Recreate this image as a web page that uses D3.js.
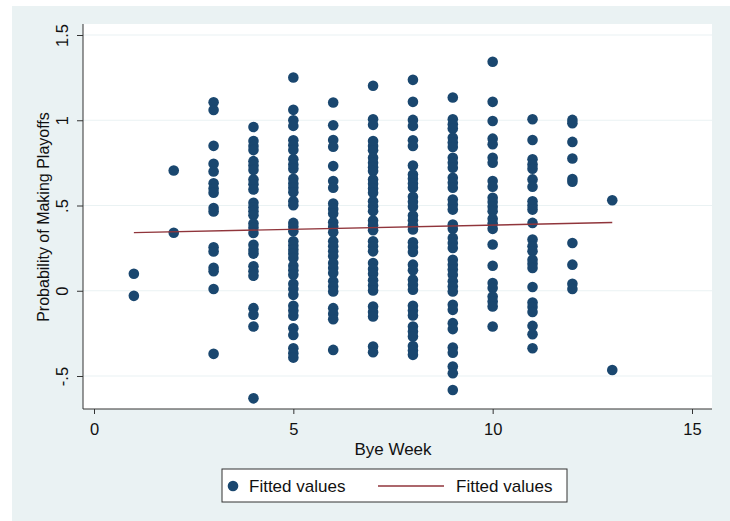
<!DOCTYPE html>
<html>
<head>
<meta charset="utf-8">
<script src="https://cdn.jsdelivr.net/npm/d3@7"></script>
<style>
  body { margin: 0; background: #fff; }
  svg { display: block; font-family: "Liberation Sans", Arial, sans-serif; }
</style>
</head>
<body>
<div id="chart"></div>
<script>
// bye week values and the fitted values for each team-season, read per column
var byeWeeks = [1, 2, 3, 4, 5, 6, 7, 8, 9, 10, 11, 12, 13];
var fittedByWeek = [
  [0.10, -0.03],
  [0.705, 0.34],
  [1.105, 1.06, 0.85, 0.745, 0.70, 0.63, 0.60, 0.575, 0.485, 0.465, 0.255, 0.23, 0.135, 0.115, 0.01, -0.37],
  [0.96, 0.878, 0.849, 0.825, 0.76, 0.735, 0.708, 0.653, 0.624, 0.594, 0.516, 0.49, 0.467, 0.443,
   0.394, 0.369, 0.339, 0.27, 0.241, 0.218, 0.143, 0.114, 0.088, -0.102, -0.141, -0.21, -0.631],
  [1.251, 1.061, 1.0, 0.967, 0.882, 0.853, 0.825, 0.771, 0.741, 0.716, 0.657, 0.629, 0.604, 0.578,
   0.525, 0.502, 0.398, 0.375, 0.349, 0.29, 0.265, 0.241, 0.218, 0.192, 0.147, 0.12, 0.094,
   0.041, 0.01, -0.024, -0.088, -0.116, -0.147, -0.22, -0.259, -0.337, -0.367, -0.392],
  [1.104, 0.971, 0.884, 0.845, 0.731, 0.643, 0.604, 0.512, 0.48, 0.453, 0.402, 0.375, 0.343,
   0.29, 0.261, 0.231, 0.202, 0.163, 0.133, 0.104, 0.055, 0.025, -0.004, -0.102, -0.135, -0.167, -0.347],
  [1.202, 1.006, 0.973, 0.878, 0.849, 0.824, 0.78, 0.751, 0.725, 0.702, 0.653, 0.627, 0.6, 0.575,
   0.525, 0.496, 0.467, 0.412, 0.384, 0.355, 0.29, 0.261, 0.231, 0.163, 0.128, 0.1, 0.061, 0.031,
   0.002, -0.092, -0.125, -0.151, -0.327, -0.361],
  [1.237, 1.108, 1.002, 0.967, 0.882, 0.849, 0.735, 0.682, 0.657, 0.629, 0.604, 0.551, 0.522,
   0.492, 0.441, 0.414, 0.384, 0.359, 0.284, 0.257, 0.227, 0.153, 0.12, 0.065, 0.035, 0.006,
   -0.088, -0.116, -0.145, -0.21, -0.239, -0.269, -0.324, -0.351, -0.376],
  [1.133, 1.006, 0.976, 0.951, 0.898, 0.869, 0.843, 0.78, 0.751, 0.722, 0.663, 0.633, 0.604,
   0.535, 0.506, 0.476, 0.388, 0.363, 0.31, 0.28, 0.251, 0.182, 0.153, 0.124, 0.094, 0.055,
   0.025, -0.004, -0.082, -0.112, -0.19, -0.225, -0.333, -0.363, -0.445, -0.484, -0.582],
  [1.343, 1.108, 0.996, 0.892, 0.859, 0.78, 0.751, 0.643, 0.61, 0.545, 0.52, 0.492, 0.467,
   0.422, 0.394, 0.363, 0.271, 0.147, 0.045, 0.016, -0.033, -0.063, -0.092, -0.21],
  [1.006, 0.884, 0.771, 0.741, 0.716, 0.653, 0.61, 0.525, 0.5, 0.476, 0.398, 0.3, 0.261, 0.231,
   0.182, 0.159, 0.133, 0.022, -0.069, -0.096, -0.125, -0.206, -0.255, -0.337],
  [1.002, 0.982, 0.873, 0.776, 0.655, 0.64, 0.28, 0.153, 0.041, 0.01],
  [0.531, -0.465]
];
// linear fit line end points
var fitX = [1, 13];
var fitY = [0.341, 0.40];
var xTicks = [0, 5, 10, 15];
var yTicks = [-0.5, 0, 0.5, 1, 1.5];
var yTickLabels = ["-.5", "0", ".5", "1", "1.5"];

var W = 730, H = 521;
var plot = { l: 83, r: 712, t: 24, b: 409 };
var font = "Liberation Sans, Arial, sans-serif";

var svg = d3.select("#chart").append("svg")
  .attr("width", W)
  .attr("height", H);

// outer graph region
svg.append("rect")
  .attr("x", 12).attr("y", 6)
  .attr("width", W - 12).attr("height", H - 6)
  .attr("fill", "#eaf2f3");

// plot region
svg.append("rect")
  .attr("x", plot.l).attr("y", plot.t)
  .attr("width", plot.r - plot.l).attr("height", plot.b - plot.t)
  .attr("fill", "#fff");

var x = d3.scaleLinear().domain([0, 15]).range([94, 692]);
var y = d3.scaleLinear().domain([-0.5, 1.5]).range([376, 35]);

// grid lines
svg.append("g")
  .selectAll("line")
  .data(yTicks)
  .join("line")
  .attr("x1", plot.l).attr("x2", plot.r)
  .attr("y1", function (d) { return y(d); })
  .attr("y2", function (d) { return y(d); })
  .attr("stroke", "#eaf2f3")
  .attr("stroke-width", 1.2);

// points
var points = [];
byeWeeks.forEach(function (w, i) {
  fittedByWeek[i].forEach(function (v) {
    points.push({ w: w, v: v });
  });
});

svg.append("g")
  .selectAll("circle")
  .data(points)
  .join("circle")
  .attr("cx", function (d) { return x(d.w); })
  .attr("cy", function (d) { return y(d.v); })
  .attr("r", 5.3)
  .attr("fill", "#1a476f");

// fit line
svg.append("line")
  .attr("x1", x(fitX[0])).attr("y1", y(fitY[0]))
  .attr("x2", x(fitX[1])).attr("y2", y(fitY[1]))
  .attr("stroke", "#90353b")
  .attr("stroke-width", 1.4);

// x axis
var xAxis = svg.append("g")
  .attr("transform", "translate(0," + plot.b + ")")
  .call(d3.axisBottom(x).tickValues(xTicks).tickSize(5).tickPadding(9).tickFormat(d3.format("d")));
xAxis.select(".domain").attr("d", "M" + plot.l + ",0H" + plot.r).attr("stroke", "#333");
xAxis.selectAll(".tick line").attr("stroke", "#333");
xAxis.selectAll("text").attr("font-size", 16.5).attr("fill", "#111")
  .attr("font-family", font);

// y axis
var yAxis = svg.append("g")
  .attr("transform", "translate(" + plot.l + ",0)")
  .call(d3.axisLeft(y).tickValues(yTicks).tickSize(6).tickFormat(function (d, i) { return yTickLabels[i]; }));
yAxis.select(".domain").attr("d", "M0," + plot.t + "V" + plot.b).attr("stroke", "#333");
yAxis.selectAll(".tick line").attr("stroke", "#333");
yAxis.selectAll("text")
  .attr("font-size", 16.5).attr("fill", "#111")
  .attr("font-family", font)
  .attr("text-anchor", "middle")
  .attr("x", 0).attr("dy", 0)
  .attr("transform", "translate(-15,0) rotate(-90)")
  .attr("y", 0);

// axis titles
svg.append("text")
  .attr("x", x(7.5)).attr("y", 455)
  .attr("text-anchor", "middle")
  .attr("font-size", 17)
  .attr("fill", "#111")
  .text("Bye Week");

svg.append("text")
  .attr("transform", "translate(49,217) rotate(-90)")
  .attr("text-anchor", "middle")
  .attr("font-size", 16)
  .attr("fill", "#111")
  .text("Probability of Making Playoffs");

// legend
var lg = svg.append("g").attr("transform", "translate(222,469)");
lg.append("rect")
  .attr("width", 345).attr("height", 33)
  .attr("fill", "#fff")
  .attr("stroke", "#333")
  .attr("stroke-width", 1);
lg.append("circle")
  .attr("cx", 11).attr("cy", 17).attr("r", 5.3)
  .attr("fill", "#1a476f");
lg.append("text")
  .attr("x", 27).attr("y", 23)
  .attr("font-size", 17).attr("fill", "#111")
  .text("Fitted values");
lg.append("line")
  .attr("x1", 156).attr("x2", 222)
  .attr("y1", 17).attr("y2", 17)
  .attr("stroke", "#90353b")
  .attr("stroke-width", 1.4);
lg.append("text")
  .attr("x", 234).attr("y", 23)
  .attr("font-size", 17).attr("fill", "#111")
  .text("Fitted values");
</script>
</body>
</html>
